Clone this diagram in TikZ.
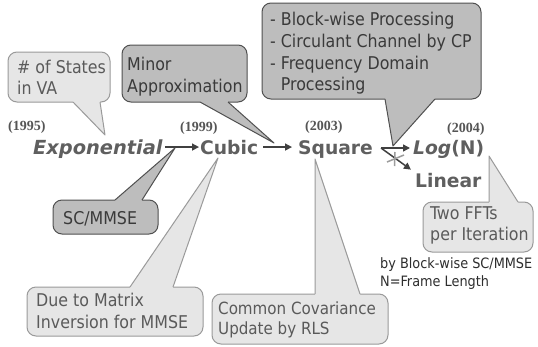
\documentclass[tikz,border=0pt]{standalone}
\usepackage{fontspec}
\setmainfont{DejaVu Sans}
\newfontfamily\cfont{DejaVu Sans Condensed}
\newfontfamily\yfont{Liberation Serif}
\usetikzlibrary{arrows.meta,calc}

\definecolor{lfill}{HTML}{E6E6E6}
\definecolor{ldraw}{HTML}{9A9A9A}
\definecolor{dfill}{HTML}{BDBDBD}
\definecolor{ddraw}{HTML}{505050}
\definecolor{ltext}{HTML}{5A5A5A}
\definecolor{dtext}{HTML}{3A3A3A}
\definecolor{mainc}{HTML}{5F5F5F}
\definecolor{arrc}{HTML}{404040}
\definecolor{yearc}{HTML}{555555}
\definecolor{notec}{HTML}{2E2E2E}
\definecolor{starc}{HTML}{9C9C9C}

\newcommand\calltail[6]{%
  \fill[#1] ($(#3)+(0,#6)$) -- (#3) -- (#4) -- (#5) -- ($(#5)+(0,#6)$) -- cycle;
  \draw[#2, line width=1pt, line join=round] (#3) -- (#4) -- (#5);}

\tikzset{
  boxL/.style={rectangle, rounded corners=9pt, fill=lfill, draw=ldraw, line width=1pt, inner sep=0pt},
  boxD/.style={boxL, fill=dfill, draw=ddraw},
  txtL/.style={text=ltext, font=\cfont\fontsize{17.6}{21.5}\selectfont, align=left, inner sep=0pt, anchor=west},
  txtD/.style={txtL, text=dtext},
  mainlbl/.style={text=mainc, font=\bfseries\fontsize{18.7}{20}\selectfont, inner sep=0pt, anchor=base west},
  yearlbl/.style={text=yearc, font=\yfont\bfseries\fontsize{14}{16}\selectfont, inner sep=0pt, anchor=base west},
  flow/.style={draw=arrc, line width=1.5pt, -{Triangle[length=7pt,width=7pt]}},
  starmk/.style={draw=starc, line width=1.5pt},
  notetxt/.style={text=notec, font=\cfont\fontsize{14.3}{17.5}\selectfont, align=left, inner sep=0pt, anchor=north west},
}

\begin{document}
\begin{tikzpicture}[x=1pt,y=-1pt]
\useasboundingbox[fill=white] (0,0) rectangle (538,346);

% main labels
\node[mainlbl, font=\bfseries\itshape\fontsize{19.4}{20}\selectfont] (exp) at (33,154) {Exponential};
\node[mainlbl] (cub) at (200,154) {Cubic};
\node[mainlbl] (sq)  at (298,154) {Square};
\node[mainlbl] (log) at (413,154) {{\itshape Log}(N)};
\node[mainlbl] (lin) at (415,187) {Linear};

% years
\node[yearlbl] (y1) at (8,130) {(1995)};
\node[yearlbl] (y2) at (180,131) {(1999)};
\node[yearlbl] (y3) at (305,130) {(2003)};
\node[yearlbl] (y4) at (447,132) {(2004)};

% flow arrows
\draw[flow, shorten <=2pt, shorten >=1pt] (exp.east |- cub.west) -- (cub.west);
\draw[flow, shorten <=5pt, shorten >=6pt] (cub.east) -- (cub.east -| sq.west);
\coordinate (fork) at (381,148);
\draw[flow, shorten >=3pt] (fork) -- (fork -| log.west);
\draw[flow, shorten >=5pt] (fork) -- (lin.north west);
\coordinate (star) at (395,159);
\draw[starmk] ($(star)+(0,-7)$) -- ($(star)+(-0.5,7)$);
\draw[starmk] ($(star)+(-8,3)$) -- ($(star)+(9,-4)$);

% callout tips
\coordinate (tip1) at (105,135);
\coordinate (tip2) at (274,143);
\coordinate (tip3) at (393,146);
\coordinate (tip4) at (175,148);
\coordinate (tip5) at (218,158);
\coordinate (tip6) at (315,159);
\coordinate (tip7) at (489,156);

% callout 1: # of States
\node[boxL, minimum width=102pt, minimum height=50pt] (s1) at (59,77) {};
\calltail{lfill}{ldraw}{73,102}{tip1}{100,102}{-2}
\node[txtL] (s1t) at (17,77.5) {\# of States\\in VA};

% callout 2: Minor Approximation
\node[boxD, minimum width=125pt, minimum height=57pt] (s2) at (184.5,73.5) {};
\calltail{dfill}{ddraw}{200,102}{tip2}{228,102}{-2}
\node[txtD] (s2t) at (127,76.5) {Minor\\Approximation};

% callout 3: block-wise
\node[boxD, minimum width=219pt, minimum height=96pt] (s3) at (371.5,51) {};
\calltail{dfill}{ddraw}{385,99}{tip3}{435,99}{-2}
\node[txtD, font=\cfont\fontsize{17.6}{21.7}\selectfont] (s3t) at (270,53.5)
  {- Block-wise Processing\\- Circulant Channel by CP\\- Frequency Domain\\\hphantom{-~}Processing};

% callout 4: SC/MMSE
\node[boxD, minimum width=105pt, minimum height=34pt] (s4) at (105.5,217) {};
\calltail{dfill}{ddraw}{115,200}{tip4}{142,200}{2}
\node[txtD] (s4t) at (63,219) {SC/MMSE};

% callout 5: Due to Matrix
\node[boxL, minimum width=176pt, minimum height=49pt] (s5) at (115,311.5) {};
\calltail{lfill}{ldraw}{130,287}{tip5}{173,287}{2}
\node[txtL] (s5t) at (36,311) {Due to Matrix\\Inversion for MMSE};

% callout 6: Common Covariance
\node[boxL, minimum width=176pt, minimum height=50pt] (s6) at (300,319) {};
\calltail{lfill}{ldraw}{315,294}{tip6}{360,294}{2}
\node[txtL, font=\cfont\fontsize{16.8}{20.5}\selectfont] (s6t) at (218,320) {Common Covariance\\Update by RLS};

% callout 7: Two FFTs
\node[boxL, minimum width=110pt, minimum height=50pt] (s7) at (478,227) {};
\calltail{lfill}{ldraw}{489,202}{tip7}{518,202}{2}
\node[txtL] (s7t) at (430,225.5) {Two FFTs\\per Iteration};

% note
\node[notetxt] (note) at (380,257.5) {by Block-wise SC/MMSE\\N=Frame Length};
\end{tikzpicture}
\end{document}
